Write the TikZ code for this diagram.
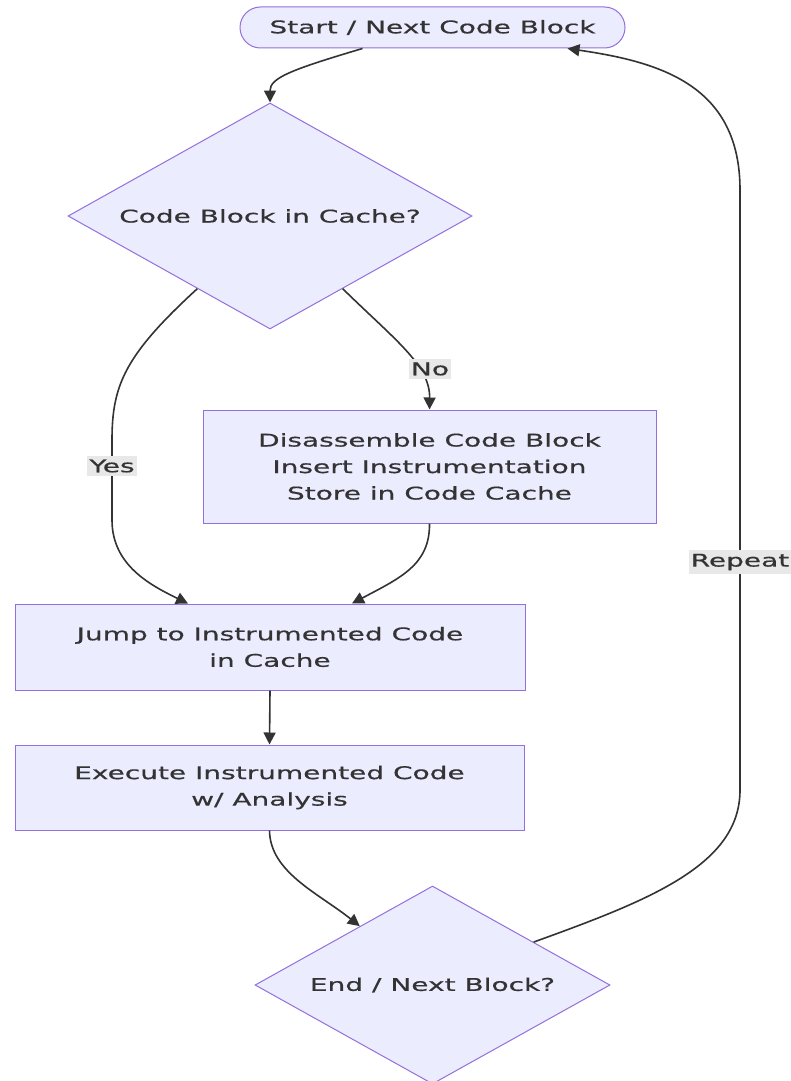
\documentclass[tikz,border=0pt]{standalone}
\usepackage{fontspec}
\setmainfont{DejaVu Sans}[FakeStretch=1.6, FakeBold=0.6]
\usetikzlibrary{shapes.geometric,arrows.meta,calc}
\definecolor{nodefill}{HTML}{ECECFF}
\definecolor{nodeline}{HTML}{9370DB}
\definecolor{edgeline}{HTML}{333333}
\definecolor{textcol}{HTML}{333333}
\definecolor{labelbg}{HTML}{E8E8E8}
\tikzset{
  x=1pt, y=-1pt,
  base/.style={draw=nodeline, fill=nodefill, line width=1pt, text=textcol,
    font=\fontsize{17.5}{26.5}\selectfont, align=center, inner sep=0pt},
  stadium/.style={base, rectangle, rounded corners=20.5pt},
  procbox/.style={base, rectangle},
  decision/.style={base, diamond, shape aspect=1.79},
  flow/.style={draw=edgeline, line width=1.6pt, -{Triangle[length=12pt,width=12pt]}},
  edgelabel/.style={fill=labelbg, text=textcol, inner xsep=2pt, inner ysep=3.5pt,
    font=\fontsize{17.5}{20}\selectfont}
}
\begin{document}
\begin{tikzpicture}
\useasboundingbox (0,0) rectangle (790,1081);
\fill[white] (0,0) rectangle (790,1081);

% nodes
\node[stadium, minimum width=385pt, minimum height=41pt] (start) at (432.5,27.5) {Start / Next Code Block};
\node[decision, minimum width=404pt, minimum height=226pt] (check) at (270,216) {Code Block in Cache?};
\node[procbox, minimum width=453pt, minimum height=113pt] (disasm) at (429.5,466.5)
  {Disassemble Code Block\\Insert Instrumentation\\Store in Code Cache};
\node[procbox, minimum width=510pt, minimum height=86pt] (jump) at (270,647)
  {Jump to Instrumented Code\\in Cache};
\node[procbox, minimum width=509pt, minimum height=85pt] (exec) at (269.5,787.5)
  {Execute Instrumented Code\\w/ Analysis};
\node[decision, minimum width=355pt, minimum height=198pt] (done) at (432.5,985) {End / Next Block?};

% connectors
\draw[flow] ([xshift=-70pt]start.south) .. controls (290,70) and (270,78) .. (check.north);

\draw[flow] (check.225) .. controls (125,355) and (112,385) .. (112,440)
  -- (112,520) .. controls (112,565) and (150,585) .. ([xshift=-82pt]jump.north);
\node[edgelabel] (lyes) at (112,466) {Yes};

\draw[flow] (check.-45) .. controls (395,340) and (430,365) .. (disasm.north);
\node[edgelabel] (lno) at (430,369) {No};

\draw[flow] (disasm.south) .. controls (430,565) and (400,578) .. ([xshift=82pt]jump.north);

\draw[flow] (jump.south) -- (exec.south |- exec.north);

\draw[flow] (exec.south) .. controls (270,872) and (318,893) .. (done.141);

\draw[flow] (done.23) .. controls (650,900) and (740,865) .. (740,790)
  -- (740,190) .. controls (740,85) and (660,62) .. ([xshift=135pt]start.south);
\node[edgelabel] (lrep) at (740,562) {Repeat};
\end{tikzpicture}
\end{document}
